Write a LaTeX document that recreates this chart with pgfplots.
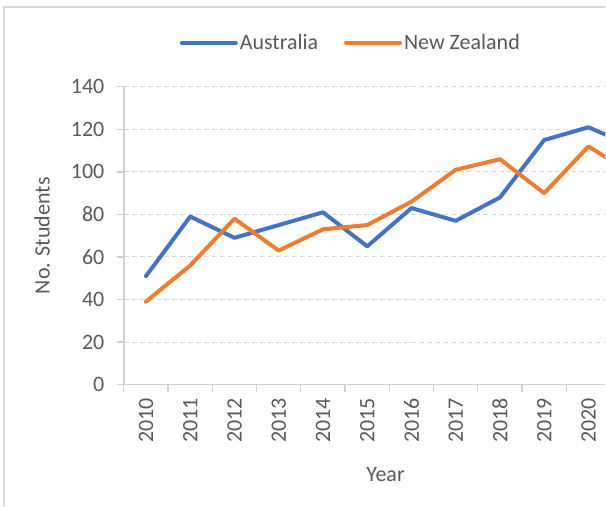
\documentclass[border=0pt]{standalone}
\usepackage{fontspec}
\setmainfont{Carlito}
\usepackage{pgfplots}
\pgfplotsset{compat=1.18}
\definecolor{aublue}{HTML}{4472C4}
\definecolor{nzorange}{HTML}{ED7D31}
\definecolor{txt}{HTML}{595959}
\definecolor{gridc}{HTML}{D9D9D9}
\definecolor{axc}{HTML}{D0D0D0}
\begin{document}
\begin{tikzpicture}[font=\fontsize{22}{26}\selectfont]
\path (0,0) rectangle (606pt,507pt);
\draw[gridc, line width=1.2pt] (4pt,0pt) -- (4pt,500pt) -- (606pt,500pt);
\begin{axis}[
  at={(124pt,122pt)}, anchor=south west,
  scale only axis, width=482pt, height=298pt,
  xmin=-0.5, xmax=10.38, ymin=0, ymax=140,
  axis lines*=left,
  axis line style={draw=axc, line width=1.5pt, -},
  tick align=outside, major tick length=7pt,
  tick style={axc, line width=1.2pt},
  ytick={0,20,...,140},
  yticklabel style={xshift=-9pt},
  ymajorgrids,
  grid style={gridc, line width=1pt, dash pattern=on 5pt off 3pt},
  xtick={-0.5,0.5,...,9.5},
  xticklabels={},
  extra x ticks={0,1,2,3,4,5,6,7,8,9,10},
  extra x tick labels={2010,2011,2012,2013,2014,2015,2016,2017,2018,2019,2020},
  extra x tick style={major tick length=0pt, grid=none,
    tick label style={rotate=90, anchor=east, xshift=-10pt}},
  ticklabel style={text=txt},
  /pgf/number format/assume math mode=true,
  xlabel={Year}, ylabel={No. Students},
  label style={text=txt},
  xlabel style={at={(axis description cs:0.5436,0)}, anchor=center, yshift=-90pt},
  ylabel style={at={(axis description cs:-0.170,0.5)}, anchor=center},
  legend columns=2,
  legend style={at={(axis description cs:0.4715,1.148)}, anchor=center, draw=none, fill=none,
    text=txt, /tikz/every even column/.append style={column sep=24pt}},
  legend image code/.code={\draw[#1] (0pt,0pt) -- (54pt,0pt);},
]
\addplot[aublue, line width=4pt, line join=round, line cap=round] coordinates {
(0,51) (1,79) (2,69) (3,75) (4,81) (5,65) (6,83) (7,77) (8,88) (9,115) (10,121) (11,112)};
\addlegendentry{Australia}
\addplot[nzorange, line width=4pt, line join=round, line cap=round] coordinates {
(0,39) (1,56) (2,78) (3,63) (4,73) (5,75) (6,86) (7,101) (8,106) (9,90) (10,112) (11,99)};
\addlegendentry{New Zealand}
\end{axis}
\end{tikzpicture}
\end{document}
